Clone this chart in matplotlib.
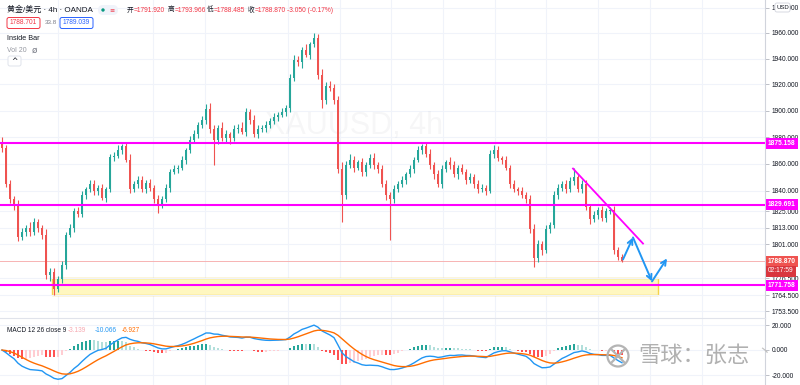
import numpy as np
import pandas as pd
import matplotlib
matplotlib.use("Agg")
import matplotlib.pyplot as plt
from matplotlib.patches import Rectangle, FancyBboxPatch, Circle
from matplotlib.ticker import FixedLocator, NullLocator

plt.rcParams['font.family'] = ['Liberation Sans', 'Noto Sans CJK SC', 'DejaVu Sans']
plt.rcParams['axes.unicode_minus'] = False

# 4h XAU/USD candles (closes), open = previous close
first_open = 1876.0
close = [
    1872, 1845, 1834, 1830, 1806, 1810, 1813, 1810, 1817, 1813,
    1808, 1779, 1781, 1769, 1776, 1786, 1808, 1813, 1825, 1823,
    1837, 1841, 1845, 1840, 1842, 1835, 1841, 1865, 1866, 1870,
    1873, 1863, 1841, 1845, 1848, 1841, 1846, 1842, 1834, 1830,
    1834, 1842, 1854, 1856, 1857, 1863, 1870, 1878, 1882, 1889,
    1893, 1901, 1886, 1878, 1887, 1879, 1882, 1879, 1886, 1887,
    1884, 1899, 1893, 1882, 1886, 1887, 1889, 1892, 1895, 1897,
    1899, 1902, 1925, 1939, 1937, 1947, 1943, 1951, 1956, 1927,
    1908, 1919, 1917, 1908, 1856, 1837, 1859, 1863, 1857, 1861,
    1854, 1859, 1864, 1859, 1856, 1845, 1837, 1834, 1841, 1845,
    1848, 1852, 1856, 1863, 1870, 1873, 1867, 1859, 1852, 1845,
    1856, 1861, 1859, 1852, 1857, 1854, 1848, 1850, 1845, 1841,
    1842, 1840, 1867, 1870, 1864, 1863, 1857, 1845, 1841, 1840,
    1837, 1834, 1812, 1791, 1801, 1797, 1812, 1815, 1837, 1842,
    1845, 1841, 1847, 1850, 1841, 1845, 1828, 1819, 1822, 1826,
    1820, 1825, 1826, 1797, 1791.92, 1788.87,
]
up_wick = [
    4, 2, 3, 2, 3, 3, 2, 4, 3, 2,
    2, 4, 3, 3, 2, 3, 2, 3, 2, 3,
    3, 2, 3, 3, 2, 3, 2, 2, 3, 4,
    2, 3, 4, 2, 3, 3, 2, 3, 2, 3,
    2, 3, 2, 3, 2, 3, 2, 3, 3, 2,
    3, 4, 5, 3, 2, 4, 3, 2, 3, 3,
    4, 3, 2, 4, 3, 2, 3, 2, 3, 2,
    3, 2, 3, 4, 3, 2, 4, 2, 4, 3,
    5, 3, 4, 3, 3, 5, 3, 4, 3, 2,
    3, 2, 3, 4, 2, 3, 3, 2, 3, 2,
    3, 2, 3, 2, 3, 2, 3, 4, 2, 3,
    3, 2, 4, 3, 2, 3, 2, 3, 2, 3,
    3, 2, 3, 4, 3, 2, 3, 2, 3, 2,
    3, 2, 3, 4, 3, 2, 3, 2, 3, 3,
    2, 3, 3, 7, 2, 3, 3, 2, 3, 2,
    3, 2, 2, 3, 2, 2.046,
]
dn_wick = [
    3, 2, 3, 4, 3, 2, 3, 3, 2, 3,
    3, 3, 4, 4, 2, 3, 3, 2, 3, 2,
    2, 3, 2, 3, 3, 2, 3, 2, 3, 2,
    3, 2, 3, 2, 3, 2, 3, 2, 3, 6,
    3, 2, 3, 2, 3, 2, 3, 2, 2, 3,
    2, 3, 3, 19, 3, 2, 3, 4, 2, 3,
    2, 3, 3, 2, 3, 2, 3, 2, 2, 3,
    2, 3, 3, 2, 3, 4, 2, 3, 2, 3,
    6, 3, 2, 3, 3, 20, 3, 2, 3, 2,
    3, 3, 2, 3, 3, 2, 4, 30, 3, 2,
    2, 3, 2, 3, 2, 3, 2, 3, 3, 2,
    3, 2, 3, 2, 3, 2, 3, 2, 3, 3,
    2, 3, 2, 3, 2, 3, 2, 3, 2, 3,
    2, 3, 3, 6, 3, 4, 2, 3, 2, 3,
    2, 3, 2, 3, 2, 3, 2, 3, 2, 3,
    2, 3, 2, 3, 2, 0.385,
]

levels = [1875.158, 1829.691, 1771.758]
zone_lo, zone_hi = 1764.5, 1776.5
zone_x = [12.5, 164.0]
trend_x = [142.75, 160.25]
trend_y = [1856.4, 1801.5]
path_x = [155.25, 157.75, 162.5, 166.25]
path_y = [1790.1, 1805.9, 1774.4, 1790.8]
vgrid = [14, 37.75, 50.75, 71.5, 84.5, 97.25, 110.25, 123.25, 136, 149, 162, 175]

price_ticks = [1980, 1960, 1940, 1920, 1900, 1880, 1860, 1840, 1825, 1813,
               1801, 1776.5, 1764.5, 1753.5]
macd_ticks = [20, 0, -20]

UP, DOWN = '#26a69a', '#ef5350'
MAG = '#ff00ff'
GRID = '#f0f3fa'
FS = 4.8

c = np.array(close, dtype=float)
o = np.r_[first_open, c[:-1]]
h = np.maximum(o, c) + np.array(up_wick)
l = np.minimum(o, c) - np.array(dn_wick)
x = np.arange(len(c))
cols = [UP if cc >= oo else DOWN for oo, cc in zip(o, c)]

s = pd.Series(c)
macd = s.ewm(span=12, adjust=False).mean() - s.ewm(span=26, adjust=False).mean()
signal = macd.ewm(span=9, adjust=False).mean()
hist = (macd - signal).values
hcols = []
for i, v in enumerate(hist):
    prev = hist[i - 1] if i else 0
    if v >= 0:
        hcols.append('#26a69a' if v > prev else '#b2dfdb')
    else:
        hcols.append('#ffcdd2' if v > prev else '#ff5252')

fig = plt.figure(figsize=(8, 3.85), dpi=100)
fig.patch.set_facecolor('white')
W = 765 / 800
ax = fig.add_axes([0, 1 - 318 / 385, W, 318 / 385])
axm = fig.add_axes([0, 0, W, 67 / 385])

# ---- price panel
ax.set_yscale('log')
ax.set_ylim(1748.6, 1986.0)
ax.set_xlim(-0.5, 190.75)
ax.yaxis.set_major_locator(FixedLocator(price_ticks))
ax.yaxis.set_minor_locator(NullLocator())
ax.set_yticklabels([f'{v:.3f}' for v in price_ticks])
ax.yaxis.tick_right()
ax.tick_params(axis='y', length=3, width=0.6, color='#b2b5be', labelsize=FS,
               labelcolor='#131722', pad=1.5)
ax.set_xticks([])
ax.grid(axis='y', color=GRID, lw=0.8)
for gx in vgrid:
    ax.axvline(gx, color=GRID, lw=0.8, zorder=0)
for sp in ['top', 'left', 'bottom']:
    ax.spines[sp].set_visible(False)
ax.spines['right'].set_color('#d1d4dc')

ax.text(88, 1888, 'XAUUSD, 4h', fontsize=22, color='#131722', alpha=0.035,
        ha='center', va='center')

ax.add_patch(Rectangle((zone_x[0], zone_lo), zone_x[1] - zone_x[0], zone_hi - zone_lo,
                       fc='#fff7bf', ec='#f5d34a', lw=1.0, zorder=1))

ax.vlines(x, l, h, colors=cols, lw=0.8, zorder=3)
ax.bar(x, np.maximum(np.abs(c - o), 0.4), bottom=np.minimum(o, c), width=0.66,
       color=cols, zorder=3, linewidth=0)

ax.axhline(c[-1], color='#f7b3b3', lw=0.7, zorder=2)
for lv in levels:
    ax.axhline(lv, color=MAG, lw=1.5, zorder=4)
ax.plot(trend_x, trend_y, color=MAG, lw=1.3, zorder=4)
for i in range(len(path_x) - 1):
    ax.annotate('', xy=(path_x[i + 1], path_y[i + 1]), xytext=(path_x[i], path_y[i]),
                arrowprops=dict(arrowstyle='->', color='#2196f3', lw=1.4,
                                shrinkA=0, shrinkB=0, mutation_scale=9), zorder=5)

ytr = ax.get_yaxis_transform()
for lv in levels:
    ax.text(1.004, lv, f'{lv:.3f}', transform=ytr, ha='left', va='center', fontsize=FS,
            color='white', fontweight='bold', clip_on=False,
            bbox=dict(boxstyle='square,pad=0.3', fc=MAG, ec='none'))
ax.text(1.004, c[-1], f'{c[-1]:.3f}', transform=ytr, ha='left', va='center', fontsize=FS,
        color='white', fontweight='bold', clip_on=False,
        bbox=dict(boxstyle='square,pad=0.3', fc='#ef5350', ec='none'))

# ---- MACD panel
axm.set_xlim(-0.5, 190.75)
axm.set_ylim(-28, 25.6)
axm.bar(x, hist, width=0.5, color=hcols, zorder=2)
axm.plot(x, macd, color='#2196f3', lw=1.0, zorder=3)
axm.plot(x, signal, color='#ff6d00', lw=1.0, zorder=3)
axm.yaxis.set_major_locator(FixedLocator(macd_ticks))
axm.set_yticklabels([f'{v:.3f}' for v in macd_ticks])
axm.yaxis.tick_right()
axm.tick_params(axis='y', length=3, width=0.6, color='#b2b5be', labelsize=FS,
                labelcolor='#131722', pad=1.5)
axm.set_xticks([])
axm.grid(axis='y', color=GRID, lw=0.8)
for gx in vgrid:
    axm.axvline(gx, color=GRID, lw=0.8, zorder=0)
for sp in ['left', 'bottom']:
    axm.spines[sp].set_visible(False)
axm.spines['top'].set_color('#e0e3eb')
axm.spines['right'].set_color('#d1d4dc')

# ---- overlay in pixel coordinates for header / watermark
ov = fig.add_axes([0, 0, 1, 1])
ov.set_xlim(0, 800)
ov.set_ylim(385, 0)
ov.axis('off')
ov.patch.set_alpha(0)

ov.text(7, 10, '黄金/美元 · 4h · OANDA', fontsize=5.8, color='#131722', va='center')
ov.add_patch(FancyBboxPatch((98, 5), 20, 10, boxstyle='round,pad=0,rounding_size=5',
                            fc='#f0f3fa', ec='none'))
ov.add_patch(Circle((103, 10), 1.7, fc='#089981', ec='none'))
ov.text(112.5, 10, '≡', fontsize=4.5, color='#f23645', ha='center', va='center',
        family=['DejaVu Sans'])
ohlc_x = [127, 168, 207, 248]
ohlc_k = ['开', '高', '低', '收']
ohlc_v = ['=1791.920', '=1793.966', '=1788.485', '=1788.870']
for px, k, v in zip(ohlc_x, ohlc_k, ohlc_v):
    ov.text(px, 10, k, fontsize=FS, color='#131722', va='center')
    ov.text(px + 6.3, 10, v, fontsize=FS, color='#f23645', va='center')
ov.text(287, 10, '-3.050 (-0.17%)', fontsize=FS, color='#f23645', va='center')

ov.add_patch(FancyBboxPatch((7, 17.5), 33, 11, boxstyle='round,pad=0,rounding_size=2',
                            fc='white', ec='#f23645', lw=0.7))
ov.text(23.5, 23, '1788.701', fontsize=FS, color='#f23645', ha='center', va='center')
ov.text(45, 23, '33.8', fontsize=4.5, color='#787b86', va='center')
ov.add_patch(FancyBboxPatch((60, 17.5), 33, 11, boxstyle='round,pad=0,rounding_size=2',
                            fc='white', ec='#2962ff', lw=0.7))
ov.text(76.5, 23, '1789.039', fontsize=FS, color='#2962ff', ha='center', va='center')
ov.text(7, 38, 'Inside Bar', fontsize=5.2, color='#131722', va='center')
ov.text(7, 50, 'Vol 20', fontsize=5, color='#9598a1', va='center')
ov.text(34, 50, 'ø', fontsize=6.5, color='#787b86', ha='center', va='center',
        family=['DejaVu Sans'])
ov.add_patch(FancyBboxPatch((8, 56), 13, 10, boxstyle='round,pad=0,rounding_size=2',
                            fc='white', ec='#e0e3eb', lw=0.7))
ov.text(14.5, 61.5, '^', fontsize=5.5, color='#131722', ha='center', va='center',
        family=['DejaVu Sans'])

ov.add_patch(FancyBboxPatch((775, 3), 15, 9, boxstyle='round,pad=0,rounding_size=2',
                            fc='white', ec='#d1d4dc', lw=0.6, zorder=5))
ov.text(782.5, 7.5, 'USD', fontsize=4.3, color='#131722', ha='center', va='center',
        zorder=6)
ov.text(768, 271, '02:17:59', fontsize=FS, color='white', va='center', clip_on=False,
        bbox=dict(boxstyle='square,pad=0.3', fc='#d9363e', ec='none'))

ov.text(7, 331, 'MACD 12 26 close 9', fontsize=4.7, color='#131722', va='center')
ov.text(68, 331, '-3.139', fontsize=4.7, color='#f7a8b0', va='center')
ov.text(95, 331, '-10.066', fontsize=4.7, color='#2196f3', va='center')
ov.text(122, 331, '-6.927', fontsize=4.7, color='#ff6d00', va='center')

# watermark
ov.add_patch(Circle((618, 356), 10.5, fc='none', ec='#b4b4b4', lw=1.6))
ov.plot([612, 624], [350, 362], color='#b4b4b4', lw=1.6)
ov.plot([624, 612], [350, 362], color='#b4b4b4', lw=1.6)
ov.text(638, 356, '雪球：张志', fontsize=16, color='#b0b0b0', va='center')
ov.text(757, 352, '丶', fontsize=10, color='#c0c0c0', va='center')

fig.savefig('out.png', dpi=100)
